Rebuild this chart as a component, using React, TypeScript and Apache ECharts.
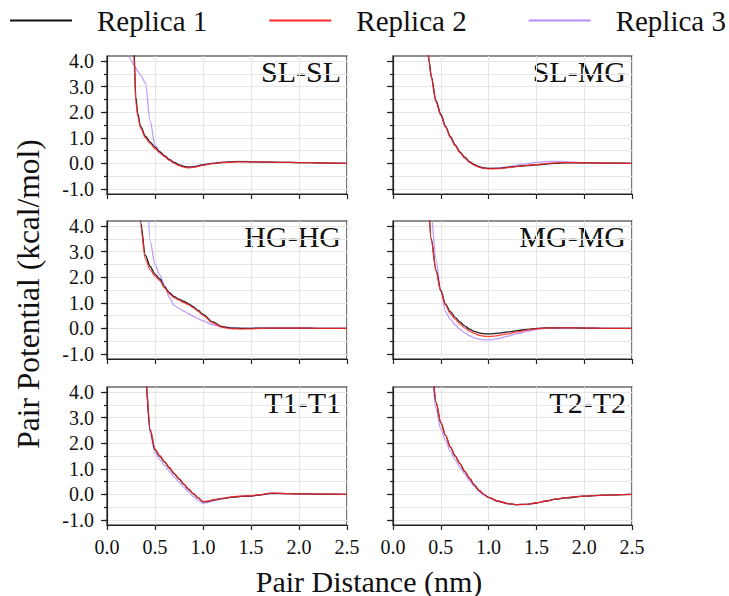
import React, { useEffect, useRef } from "react";
import * as echarts from "echarts";

const replicaNames = ["Replica 1", "Replica 2", "Replica 3"];
const replicaColors = ["#111111", "#ff2a2a", "#b48cff"];
const panelLabels = ["SL-SL", "SL-MG", "HG-HG", "MG-MG", "T1-T1", "T2-T2"];
const yMajorTicks = [-1, 0, 1, 2, 3, 4];
const yMinorTicks = [-1, -0.5, 0, 0.5, 1, 1.5, 2, 2.5, 3, 3.5, 4];
const xTitle = "Pair Distance (nm)";
const yTitle = "Pair Potential (kcal/mol)";

// SL-SL
const slslX = [0.2, 0.25, 0.28, 0.3, 0.32, 0.35, 0.4, 0.45, 0.5, 0.55, 0.6, 0.65, 0.7, 0.75, 0.8, 0.85, 0.9, 1.0, 1.1, 1.2, 1.3, 1.4, 1.5, 1.6, 1.8, 2.0, 2.2, 2.5];
const slslR1 = [12, 8, 4.5, 2.6, 1.95, 1.45, 1.06, 0.83, 0.63, 0.45, 0.29, 0.15, 0.04, -0.06, -0.12, -0.15, -0.14, -0.06, 0.0, 0.04, 0.06, 0.07, 0.06, 0.05, 0.04, 0.03, 0.02, 0.0];
const slslR2 = [12, 7.5, 4.2, 2.4, 1.85, 1.38, 1.0, 0.77, 0.58, 0.41, 0.26, 0.12, 0.0, -0.09, -0.15, -0.18, -0.16, -0.08, -0.01, 0.03, 0.05, 0.06, 0.06, 0.05, 0.04, 0.03, 0.02, 0.0];
const slslR3 = [4.6, 4.05, 3.85, 3.72, 3.6, 3.45, 3.15, 1.65, 0.72, 0.46, 0.29, 0.14, 0.03, -0.06, -0.12, -0.14, -0.12, -0.05, 0.01, 0.05, 0.07, 0.08, 0.07, 0.06, 0.04, 0.03, 0.02, 0.0];

// SL-MG
const slmgX = [0.3, 0.35, 0.38, 0.4, 0.45, 0.5, 0.55, 0.6, 0.65, 0.7, 0.75, 0.8, 0.85, 0.9, 0.95, 1.0, 1.1, 1.2, 1.3, 1.4, 1.5, 1.6, 1.7, 1.8, 2.0, 2.2, 2.5];
const slmgR1 = [9, 5.0, 3.95, 3.4, 2.45, 1.92, 1.45, 1.05, 0.72, 0.45, 0.24, 0.07, -0.05, -0.13, -0.18, -0.2, -0.2, -0.16, -0.12, -0.09, -0.06, -0.03, 0.0, 0.02, 0.02, 0.01, 0.0];
const slmgR2 = [9, 4.9, 3.9, 3.35, 2.4, 1.88, 1.42, 1.02, 0.69, 0.42, 0.21, 0.04, -0.07, -0.15, -0.2, -0.22, -0.21, -0.17, -0.12, -0.08, -0.05, -0.01, 0.02, 0.03, 0.02, 0.01, 0.0];
const slmgR3 = [9, 5.0, 3.95, 3.4, 2.45, 1.9, 1.42, 1.02, 0.7, 0.43, 0.22, 0.05, -0.06, -0.14, -0.19, -0.2, -0.18, -0.13, -0.07, -0.02, 0.04, 0.07, 0.08, 0.07, 0.03, 0.01, 0.0];

// HG-HG
const hghgX = [0.3, 0.35, 0.4, 0.45, 0.5, 0.55, 0.6, 0.65, 0.7, 0.75, 0.8, 0.85, 0.9, 0.95, 1.0, 1.1, 1.2, 1.3, 1.4, 1.5, 1.6, 1.8, 2.0, 2.2, 2.5];
const hghgR1 = [9, 4.15, 2.85, 2.42, 2.12, 1.93, 1.62, 1.4, 1.24, 1.14, 1.05, 0.96, 0.84, 0.7, 0.55, 0.25, 0.07, 0.01, 0.0, 0.0, 0.01, 0.01, 0.01, 0.0, 0.0];
const hghgR2 = [9, 4.0, 2.7, 2.3, 2.04, 1.87, 1.58, 1.35, 1.19, 1.1, 1.01, 0.92, 0.8, 0.66, 0.51, 0.21, 0.04, -0.02, -0.03, -0.02, 0.0, 0.01, 0.01, 0.0, 0.0];
const hghgR3 = [9, 9, 6.5, 3.4, 2.5, 2.08, 1.7, 1.2, 0.9, 0.78, 0.67, 0.57, 0.47, 0.38, 0.29, 0.14, 0.06, 0.02, 0.01, 0.0, 0.01, 0.01, 0.01, 0.0, 0.0];

// MG-MG
const mgmgX = [0.3, 0.35, 0.4, 0.45, 0.5, 0.55, 0.6, 0.65, 0.7, 0.75, 0.8, 0.85, 0.9, 0.95, 1.0, 1.05, 1.1, 1.2, 1.3, 1.4, 1.5, 1.6, 1.8, 2.0, 2.2, 2.5];
const mgmgR1 = [9, 6, 3.5, 2.28, 1.48, 0.95, 0.65, 0.43, 0.25, 0.1, -0.03, -0.12, -0.18, -0.21, -0.22, -0.21, -0.19, -0.14, -0.09, -0.04, 0.0, 0.02, 0.02, 0.01, 0.0, 0.0];
const mgmgR2 = [9, 6, 3.45, 2.25, 1.45, 0.9, 0.58, 0.35, 0.17, 0.02, -0.11, -0.2, -0.27, -0.31, -0.32, -0.31, -0.28, -0.22, -0.14, -0.07, -0.02, 0.01, 0.02, 0.01, 0.0, 0.0];
const mgmgR3 = [9, 8, 4.4, 2.7, 1.45, 0.65, 0.35, 0.14, -0.04, -0.18, -0.29, -0.37, -0.42, -0.45, -0.45, -0.43, -0.4, -0.31, -0.21, -0.12, -0.05, 0.0, 0.02, 0.01, 0.0, 0.0];

// T1-T1
const t1X = [0.35, 0.4, 0.45, 0.5, 0.55, 0.6, 0.65, 0.7, 0.75, 0.8, 0.85, 0.9, 0.95, 1.0, 1.05, 1.1, 1.2, 1.3, 1.4, 1.5, 1.6, 1.7, 1.8, 2.0, 2.2, 2.5];
const t1R1 = [9, 4.6, 2.5, 1.75, 1.49, 1.26, 1.03, 0.8, 0.6, 0.39, 0.19, 0.02, -0.14, -0.29, -0.28, -0.23, -0.17, -0.11, -0.08, -0.07, -0.02, 0.04, 0.04, 0.02, 0.01, 0.0];
const t1R2 = [9, 4.6, 2.55, 1.78, 1.51, 1.28, 1.05, 0.82, 0.62, 0.41, 0.21, 0.03, -0.13, -0.28, -0.27, -0.22, -0.16, -0.1, -0.07, -0.06, -0.01, 0.05, 0.04, 0.02, 0.01, 0.0];
const t1R3 = [9, 4.5, 2.35, 1.62, 1.36, 1.12, 0.9, 0.68, 0.48, 0.28, 0.09, -0.09, -0.24, -0.35, -0.32, -0.26, -0.18, -0.12, -0.08, -0.06, -0.02, 0.02, 0.02, 0.01, 0.0, 0.0];

// T2-T2
const t2X = [0.35, 0.4, 0.45, 0.5, 0.55, 0.6, 0.65, 0.7, 0.75, 0.8, 0.85, 0.9, 0.95, 1.0, 1.1, 1.2, 1.3, 1.4, 1.5, 1.6, 1.7, 1.8, 2.0, 2.2, 2.5];
const t2R1 = [9, 5.2, 3.6, 2.8, 2.3, 1.85, 1.5, 1.2, 0.9, 0.63, 0.37, 0.15, 0.0, -0.12, -0.27, -0.36, -0.4, -0.39, -0.34, -0.26, -0.19, -0.14, -0.07, -0.03, 0.0];
const t2R2 = [9, 5.25, 3.62, 2.82, 2.31, 1.86, 1.5, 1.2, 0.9, 0.63, 0.37, 0.15, 0.0, -0.12, -0.27, -0.36, -0.4, -0.39, -0.33, -0.26, -0.19, -0.13, -0.07, -0.03, 0.0];
const t2R3 = [9, 4.9, 3.35, 2.55, 2.1, 1.68, 1.35, 1.06, 0.8, 0.55, 0.31, 0.11, -0.02, -0.13, -0.28, -0.37, -0.41, -0.4, -0.34, -0.26, -0.19, -0.14, -0.07, -0.03, 0.0];

const panels = [
  { x: slslX, r: [slslR1, slslR2, slslR3] },
  { x: slmgX, r: [slmgR1, slmgR2, slmgR3] },
  { x: hghgX, r: [hghgR1, hghgR2, hghgR3] },
  { x: mgmgX, r: [mgmgR1, mgmgR2, mgmgR3] },
  { x: t1X, r: [t1R1, t1R2, t1R3] },
  { x: t2X, r: [t2R1, t2R2, t2R3] },
];

const FONT = "Liberation Serif";
const GRID_LEFTS = [107, 393];
const GRID_WIDTHS = [240, 239];
const GRID_TOPS = [56, 221, 387];
const GRID_H = 138;
const AX = "#222222";
const GRIDLINE = "#e6e6e6";

export default function App() {
  const ref = useRef<HTMLDivElement>(null);
  useEffect(() => {
    if (!ref.current) return;
    const chart = echarts.init(ref.current, null, { renderer: "svg" });
    const grids: any[] = [];
    const xAxes: any[] = [];
    const yAxes: any[] = [];
    const series: any[] = [];
    const graphics: any[] = [];
    panels.forEach((p, k) => {
      const col = k % 2;
      const row = Math.floor(k / 2);
      const left = GRID_LEFTS[col];
      const width = GRID_WIDTHS[col];
      const top = GRID_TOPS[row];
      grids.push({ left, top, width, height: GRID_H, show: true, borderColor: AX, borderWidth: 1.2, backgroundColor: "transparent" });
      xAxes.push({
        gridIndex: k, type: "value", min: 0, max: 2.5, interval: 0.5,
        axisLine: { show: true, onZero: false, lineStyle: { color: AX, width: 1.2 } },
        axisTick: { show: true, length: 5, lineStyle: { color: AX, width: 1.2 } },
        axisLabel: { show: row === 2, formatter: (v: number) => v.toFixed(1), fontSize: 20, fontFamily: FONT, color: "#111", margin: 12 },
        splitLine: { show: true, lineStyle: { color: GRIDLINE, width: 1 } },
      });
      yAxes.push({
        gridIndex: k, type: "value", min: -1.2, max: 4.2, position: "left",
        axisLine: { show: true, onZero: false, lineStyle: { color: AX, width: 1.2 } },
        axisTick: { show: true, length: 6, customValues: yMajorTicks, lineStyle: { color: AX, width: 1.2 } },
        axisLabel: { show: col === 0, customValues: yMajorTicks, formatter: (v: number) => v.toFixed(1), fontSize: 20, fontFamily: FONT, color: "#111", margin: 13 },
        splitLine: { show: false },
      });
      yAxes.push({
        gridIndex: k, type: "value", min: -1.2, max: 4.2, position: "left",
        axisLine: { show: false },
        axisTick: { show: true, length: 3, customValues: yMinorTicks, lineStyle: { color: AX, width: 1.2 } },
        axisLabel: { show: false },
        splitLine: { show: true, lineStyle: { color: GRIDLINE, width: 1 } },
      });
      [2, 0, 1].forEach((ri) => {
        series.push({
          type: "line", name: replicaNames[ri], xAxisIndex: k, yAxisIndex: 2 * k,
          data: p.x.map((xv, i) => [xv, p.r[ri][i]]),
          showSymbol: false, symbol: "none", smooth: 0.3, smoothMonotone: "x", clip: true,
          lineStyle: { color: replicaColors[ri], width: 1.3, opacity: ri === 0 ? 0.95 : 0.85 },
          itemStyle: { color: replicaColors[ri] },
          silent: true,
        });
      });
      graphics.push({
        type: "text", x: left + width - 6, y: top,
        style: { text: panelLabels[k], align: "right", verticalAlign: "top", fontSize: 30, fontFamily: FONT, fill: "#111" },
      });
    });
    graphics.push({
      type: "text", x: 369, y: 581,
      style: { text: xTitle, align: "center", verticalAlign: "middle", fontSize: 30, fontFamily: FONT, fill: "#111" },
    });
    graphics.push({
      type: "text", x: 28, y: 294, rotation: Math.PI / 2,
      style: { text: yTitle, align: "center", verticalAlign: "middle", fontSize: 31.5, fontFamily: FONT, fill: "#111" },
    });
    chart.setOption({
      animation: false,
      backgroundColor: "#ffffff",
      textStyle: { fontFamily: FONT },
      legend: {
        data: replicaNames, left: 10, top: 6, itemWidth: 62, itemHeight: 2, itemGap: 62, icon: "rect", padding: 0,
        textStyle: { fontSize: 29, fontFamily: FONT, color: "#111", padding: [0, 0, 0, 20] },
      },
      grid: grids, xAxis: xAxes, yAxis: yAxes, series, graphic: graphics,
    });
    return () => chart.dispose();
  }, []);
  return <div ref={ref} style={{ width: 729, height: 596, position: "absolute", left: 0, top: 0 }} />;
}
